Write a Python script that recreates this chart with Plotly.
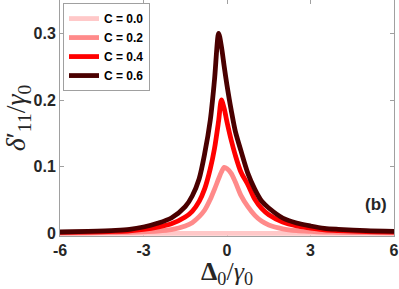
import plotly.graph_objects as go

# Detuning grid (Delta_0 / gamma_0)
detuning = [-6, -5, -4, -3.5, -3, -2.5, -2, -1.5, -1.25, -1, -0.8, -0.6, -0.45, -0.3, -0.2,
            -0.1, 0, 0.15, 0.3, 0.5, 0.75, 1, 1.25, 1.5, 2, 2.5, 3, 3.5, 4, 5, 6]

# delta'_11 / gamma_0 for each C
c00 = [0.0] * len(detuning)
c02 = [0.0005, 0.0008, 0.0012, 0.0016, 0.0022, 0.0033, 0.0055, 0.011, 0.016, 0.025, 0.035, 0.051,
       0.066, 0.082, 0.092, 0.099, 0.097, 0.090, 0.077, 0.057, 0.040, 0.027, 0.018, 0.0125,
       0.0068, 0.004, 0.0028, 0.002, 0.0015, 0.001, 0.0007]
c04 = [0.0013, 0.0019, 0.0029, 0.0038, 0.0059, 0.0092, 0.0143, 0.0244, 0.033, 0.048, 0.067, 0.097,
       0.127, 0.169, 0.200, 0.187, 0.167, 0.140, 0.117, 0.092, 0.073, 0.051, 0.037, 0.028,
       0.017, 0.011, 0.008, 0.0053, 0.0041, 0.0027, 0.002]
c06 = [0.002, 0.003, 0.0045, 0.006, 0.0095, 0.015, 0.023, 0.040, 0.056, 0.082, 0.120, 0.170,
       0.230, 0.300, 0.280, 0.250, 0.222, 0.185, 0.153, 0.124, 0.090, 0.066, 0.048, 0.038,
       0.023, 0.0155, 0.011, 0.0075, 0.006, 0.004, 0.003]

series = [("C = 0.0", c00, "#ffc8c8"),
          ("C = 0.2", c02, "#ff8a8a"),
          ("C = 0.4", c04, "#ff0000"),
          ("C = 0.6", c06, "#4a0000")]

x_ticks = [-6, -3, 0, 3, 6]
y_ticks = [0, 0.1, 0.2, 0.3]
y_labels = ["0", "0.1", "0.2", "0.3"]

fig = go.Figure()
for name, vals, col in series:
    fig.add_trace(go.Scatter(x=detuning, y=vals, mode="lines", name=name,
                             line=dict(color=col, width=4.8, shape="spline", smoothing=0.8)))

axis_common = dict(showline=True, linecolor="#a0a0a0", linewidth=1, mirror="ticks",
                   ticks="inside", ticklen=4, tickcolor="#a0a0a0", showgrid=False,
                   zeroline=False, layer="below traces", automargin=True,
                   ticklabeloverflow="allow",
                   tickfont=dict(family="Liberation Sans", size=16, color="#262626",
                                 weight="bold"))

fig.update_layout(
    width=399, height=289,
    margin=dict(l=60, r=5, t=0, b=53, autoexpand=False),
    plot_bgcolor="white", paper_bgcolor="white",
    showlegend=True,
    legend=dict(x=0.009, y=0.987, xanchor="left", yanchor="top",
                bgcolor="white", bordercolor="#a0a0a0", borderwidth=1,
                font=dict(family="Liberation Sans", size=12, color="black", weight="bold"),
                itemwidth=30, tracegroupgap=0),
    xaxis=dict(range=[-6, 6], tickvals=x_ticks, ticktext=[str(t) for t in x_ticks],
               title=dict(text="<b>Δ</b><sub>0</sub>/<i>γ</i><sub>0</sub>", standoff=4,
                          font=dict(family="Liberation Serif", size=26, color="#262626")),
               **axis_common),
    yaxis=dict(range=[-0.004, 0.35], tickvals=y_ticks, ticktext=y_labels,
               title=dict(text="<i>δ</i>′<sub>11</sub>/<i>γ</i><sub>0</sub>", standoff=0,
                          font=dict(family="Liberation Serif", size=28, color="#262626")),
               **axis_common),
    annotations=[dict(text="<b>(b)</b>", x=0.985, y=0.135, xref="paper", yref="paper",
                      xanchor="right", yanchor="middle", showarrow=False,
                      font=dict(family="Liberation Sans", size=17, color="#262626"))],
)

fig.write_html("out.html", post_script="document.body.style.margin='0';",
               config={"displayModeBar": False})
